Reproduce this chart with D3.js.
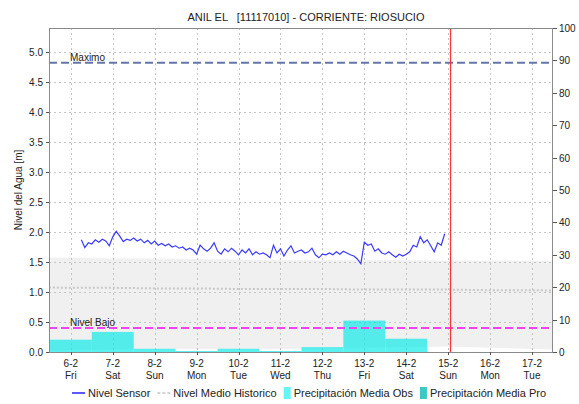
<!DOCTYPE html>
<html>
<head>
<meta charset="utf-8">
<script src="https://cdn.jsdelivr.net/npm/d3@7"></script>
<style>
  body { margin: 0; background: #fff; }
  text { font-family: "Liberation Sans", Arial, sans-serif; }
</style>
</head>
<body>
<svg id="chart" width="579" height="404"></svg>
<script>
// Sensor level, every 2 hours from 6-2 18:00
var sensorStart = new Date(2015, 1, 6, 18);
var sensorValues = [
  1.87, 1.74, 1.82, 1.80, 1.87, 1.83, 1.88, 1.85, 1.77, 1.92,
  2.01, 1.93, 1.84, 1.88, 1.86, 1.90, 1.85, 1.88, 1.82, 1.86,
  1.80, 1.85, 1.78, 1.81, 1.77, 1.80, 1.75, 1.77, 1.73, 1.75,
  1.70, 1.73, 1.70, 1.63, 1.78, 1.72, 1.68, 1.73, 1.82, 1.68,
  1.63, 1.72, 1.67, 1.73, 1.68, 1.62, 1.70, 1.65, 1.72, 1.62,
  1.67, 1.63, 1.65, 1.62, 1.57, 1.78, 1.65, 1.72, 1.60, 1.70,
  1.77, 1.65, 1.68, 1.70, 1.65, 1.67, 1.73, 1.62, 1.57, 1.63,
  1.62, 1.65, 1.62, 1.67, 1.63, 1.68, 1.65, 1.62, 1.60, 1.55,
  1.47, 1.83, 1.78, 1.80, 1.68, 1.72, 1.65, 1.63, 1.67, 1.62,
  1.58, 1.63, 1.60, 1.63, 1.67, 1.78, 1.75, 1.92, 1.82, 1.87,
  1.77, 1.67, 1.82, 1.78, 1.97
];

// Historic band (daily, noon) from 5-2 to 18-2
var histDays = [5, 6, 7, 8, 9, 10, 11, 12, 13, 14, 15, 16, 17, 18];
var histMax = [1.58, 1.57, 1.56, 1.56, 1.55, 1.54, 1.53, 1.53, 1.53, 1.53, 1.52, 1.52, 1.52, 1.51];
var histMed = [1.08, 1.07, 1.07, 1.06, 1.06, 1.05, 1.05, 1.05, 1.04, 1.04, 1.04, 1.03, 1.03, 1.02];
var histMin = [0.02, 0.03, 0.04, 0.05, 0.05, 0.05, 0.05, 0.06, 0.07, 0.08, 0.09, 0.07, 0.05, 0.03];

// Daily precipitation [mm]
var precipDays = [5, 6, 7, 8, 9, 10, 11, 12, 13, 14];
var precipObs = [9.8, 3.8, 6.2, 1.0, 0.3, 1.0, 0.3, 1.5, 9.7, 4.1];
var precipProDays = [15, 16, 17];
var precipPro = [0, 0, 0];

var nivelMaximo = 4.82;
var nivelBajo = 0.4;
var now = new Date(2015, 1, 15, 13, 20);

var title = "ANIL EL   [11117010] - CORRIENTE: RIOSUCIO";

var svg = d3.select('#chart');
var margin = { top: 28, right: 26, bottom: 52, left: 49 };
var width = 579 - margin.left - margin.right;
var height = 404 - margin.top - margin.bottom;

var day = function(d, h, m) { return new Date(2015, 1, d, h || 0, m || 0); };

var x = d3.scaleTime()
    .domain([day(5, 23, 30), day(18, 0)])
    .range([0, width]);
var y = d3.scaleLinear().domain([0, 5.4]).range([height, 0]);
var y2 = d3.scaleLinear().domain([0, 100]).range([height, 0]);

var g = svg.append('g')
    .attr('transform', `translate(${margin.left},${margin.top})`);

g.append('defs').append('clipPath').attr('id', 'clip')
  .append('rect').attr('width', width).attr('height', height);

var plot = g.append('g').attr('clip-path', 'url(#clip)');

// Historic band
var hist = histDays.map(function(d, i) {
  return { t: day(d, 12), max: histMax[i], med: histMed[i], min: histMin[i] };
});
plot.append('path')
    .datum(hist)
    .attr('fill', '#f0f0f0')
    .attr('d', d3.area()
        .x(function(d) { return x(d.t); })
        .y0(function(d) { return y(d.min); })
        .y1(function(d) { return y(d.max); }));

// Grid
var dayTicks = d3.range(6, 18).map(function(d) { return day(d, 12); });
var yTicks = d3.range(0, 5.01, 0.5);
plot.append('g').selectAll('line').data(yTicks).enter().append('line')
    .attr('x1', 0).attr('x2', width)
    .attr('y1', function(d) { return Math.round(y(d)) + 0.5; })
    .attr('y2', function(d) { return Math.round(y(d)) + 0.5; })
    .attr('stroke', '#c4c4c4')
    .attr('stroke-dasharray', '2,3');
plot.append('g').selectAll('line').data(dayTicks).enter().append('line')
    .attr('x1', function(d) { return Math.round(x(d)) + 0.5; })
    .attr('x2', function(d) { return Math.round(x(d)) + 0.5; })
    .attr('y1', 0).attr('y2', height)
    .attr('stroke', '#c4c4c4')
    .attr('stroke-dasharray', '2,3');

// Historic median
plot.append('path')
    .datum(hist)
    .attr('fill', 'none')
    .attr('stroke', '#c8c8c8')
    .attr('stroke-width', 2)
    .attr('stroke-dasharray', '2,2')
    .attr('d', d3.line()
        .x(function(d) { return x(d.t); })
        .y(function(d) { return y(d.med); }));

// Precipitation bars
plot.append('g').selectAll('rect').data(precipDays).enter().append('rect')
    .attr('x', function(d) { return x(day(d, 0)); })
    .attr('width', function(d) { return x(day(d + 1, 0)) - x(day(d, 0)); })
    .attr('y', function(d, i) { return y2(precipObs[i]); })
    .attr('height', function(d, i) { return height - y2(precipObs[i]); })
    .attr('fill', '#00e8e8')
    .attr('fill-opacity', 0.65);
plot.append('g').selectAll('rect').data(precipProDays).enter().append('rect')
    .attr('x', function(d) { return x(day(d, 0)); })
    .attr('width', function(d) { return x(day(d + 1, 0)) - x(day(d, 0)); })
    .attr('y', function(d, i) { return y2(precipPro[i]); })
    .attr('height', function(d, i) { return height - y2(precipPro[i]); })
    .attr('fill', '#33c4c4');

// Reference levels
plot.append('line')
    .attr('x1', 0).attr('x2', width)
    .attr('y1', y(nivelMaximo)).attr('y2', y(nivelMaximo))
    .attr('stroke', '#6675a8').attr('stroke-width', 2)
    .attr('stroke-dasharray', '8,4');
plot.append('line')
    .attr('x1', 0).attr('x2', width)
    .attr('y1', y(nivelBajo)).attr('y2', y(nivelBajo))
    .attr('stroke', '#ee44ee').attr('stroke-width', 2)
    .attr('stroke-dasharray', '8,4');
g.append('text')
    .attr('x', 21).attr('y', y(nivelMaximo) - 2)
    .style('font-size', '10px').attr('fill', '#222')
    .text('Maximo');
g.append('text')
    .attr('x', 21).attr('y', y(nivelBajo) - 2)
    .style('font-size', '10px').attr('fill', '#222')
    .text('Nivel Bajo');

// Sensor line
var sensor = sensorValues.map(function(v, i) {
  return { t: new Date(sensorStart.getTime() + i * 2 * 3600 * 1000), v: v };
});
plot.append('path')
    .datum(sensor)
    .attr('fill', 'none')
    .attr('stroke', '#3a3aff')
    .attr('stroke-width', 1.2)
    .attr('d', d3.line()
        .x(function(d) { return x(d.t); })
        .y(function(d) { return y(d.v); }));

// Current time
plot.append('line')
    .attr('x1', x(now)).attr('x2', x(now))
    .attr('y1', 0).attr('y2', height)
    .attr('stroke', '#ff3333').attr('stroke-width', 1.2);

// Frame
g.append('rect')
    .attr('x', 0.5).attr('y', 0.5)
    .attr('width', width - 1).attr('height', height)
    .attr('fill', 'none').attr('stroke', '#8a8a8a');

// Left axis
var left = g.append('g');
left.selectAll('line').data(yTicks).enter().append('line')
    .attr('x1', -3).attr('x2', 0)
    .attr('y1', function(d) { return Math.round(y(d)) + 0.5; })
    .attr('y2', function(d) { return Math.round(y(d)) + 0.5; })
    .attr('stroke', '#555');
left.selectAll('text').data(yTicks).enter().append('text')
    .attr('x', -6).attr('y', function(d) { return y(d) + 4; })
    .attr('text-anchor', 'end')
    .style('font-size', '10px').attr('fill', '#222')
    .text(d3.format('.1f'));

// Right axis
var rTicks = d3.range(0, 101, 10);
var right = g.append('g').attr('transform', `translate(${width},0)`);
right.selectAll('line').data(rTicks).enter().append('line')
    .attr('x1', 0).attr('x2', 4)
    .attr('y1', function(d) { return Math.round(y2(d)) + 0.5; })
    .attr('y2', function(d) { return Math.round(y2(d)) + 0.5; })
    .attr('stroke', '#555');
right.selectAll('text').data(rTicks).enter().append('text')
    .attr('x', 6).attr('y', function(d) { return y2(d) + 4; })
    .style('font-size', '10px').attr('fill', '#222')
    .text(function(d) { return d; });

// Bottom axis
var bottom = g.append('g').attr('transform', `translate(0,${height})`);
bottom.selectAll('line').data(dayTicks).enter().append('line')
    .attr('x1', function(d) { return Math.round(x(d)) + 0.5; })
    .attr('x2', function(d) { return Math.round(x(d)) + 0.5; })
    .attr('y1', 0).attr('y2', 3)
    .attr('stroke', '#555');
var lbl = bottom.selectAll('text').data(dayTicks).enter().append('text')
    .attr('text-anchor', 'middle')
    .style('font-size', '10px').attr('fill', '#222');
lbl.append('tspan')
    .attr('x', function(d) { return x(d); }).attr('y', 15)
    .text(d3.timeFormat('%-d-%-m'));
lbl.append('tspan')
    .attr('x', function(d) { return x(d); }).attr('y', 27)
    .text(d3.timeFormat('%a'));

// Axis title
svg.append('text')
    .attr('transform', 'translate(22,190) rotate(-90)')
    .attr('text-anchor', 'middle')
    .style('font-size', '10px').attr('fill', '#222')
    .text('Nivel del Agua [m]');

// Title
svg.append('text')
    .attr('x', 306).attr('y', 21)
    .attr('text-anchor', 'middle')
    .style('font-size', '11px').style('white-space', 'pre').attr('fill', '#222')
    .text(title);

// Legend, laid out left to right then centred
var legendItems = [
  { label: 'Nivel Sensor', kind: 'line', color: '#2222ff' },
  { label: 'Nivel Medio Historico', kind: 'dash', color: '#c8c8c8' },
  { label: 'Precipitación Media Obs', kind: 'box', color: '#66f4f4' },
  { label: 'Precipitación Media Pro', kind: 'box', color: '#3cc8c4' }
];
var leg = svg.append('g');
var cx = 0;
legendItems.forEach(function(it) {
  var sw = it.kind === 'box' ? 7 : 13;
  if (it.kind === 'box') {
    leg.append('rect').attr('x', cx).attr('y', -6).attr('width', 7).attr('height', 12)
        .attr('fill', it.color);
  } else {
    leg.append('line').attr('x1', cx).attr('x2', cx + 13).attr('y1', 0).attr('y2', 0)
        .attr('stroke', it.color).attr('stroke-width', 1.5)
        .attr('stroke-dasharray', it.kind === 'dash' ? '3,2' : null);
  }
  var t = leg.append('text').attr('x', cx + sw + 3).attr('y', 4)
      .style('font-size', '11px').attr('fill', '#222').text(it.label);
  cx += sw + 3 + t.node().getComputedTextLength() + 7;
});
leg.attr('transform', `translate(${Math.round(309 - (cx - 7) / 2)},393)`);
</script>
</body>
</html>
